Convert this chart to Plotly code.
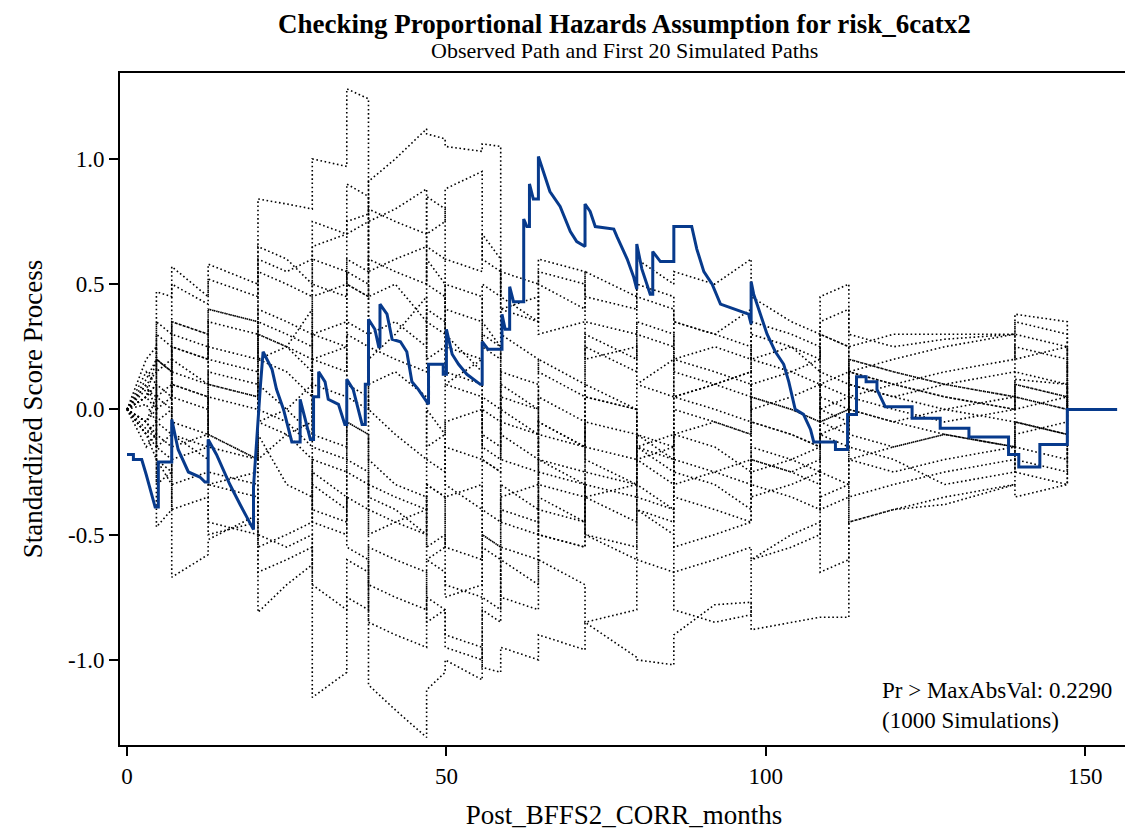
import plotly.graph_objects as go

# common event grid for the simulated paths (repeated times = jumps)
sim_t = [0, 3, 4.6, 4.6, 7.0, 7.0, 12.7, 12.7, 20.5, 20.5, 25, 29.0, 29.0, 34.4, 34.4,
         37.8, 37.8, 42, 46.9, 46.9, 49.8, 49.8, 55.6, 55.6, 58.5, 58.5, 64.4, 64.4,
         71.7, 71.7, 79.8, 79.8, 85.6, 85.6, 92, 97.7, 97.7, 104, 108.5, 108.5, 113, 113,
         120, 128, 139, 139, 147.2, 147.2]

sim_A = [0, 0.12, 0.2, 0.35, 0.3, 0.5, 0.42, 0.58, 0.5, 0.84, 0.82, 0.8, 1.0, 0.97, 1.28, 1.24, 0.45, 0.5, 0.35, 0.6, 0.5, 0.3, 0.15, 0.35, 0.25, -0.1, -0.2, -0.05, -0.15, 0.1, 0.0, -0.2, -0.3, -0.1, -0.15, -0.25, -0.05, -0.1, -0.15, 0.05, 0.0, 0.15, 0.1, 0.05, 0.0, 0.1, 0.05, 0]
sim_B = [0, 0.05, 0.1, 0.2, 0.15, 0.35, 0.3, 0.4, 0.35, 0.6, 0.55, 0.6, 0.65, 0.7, 0.75, 0.78, 0.91, 1.0, 1.12, 1.1, 1.08, 1.05, 1.03, 1.06, 1.05, 0.45, 0.35, 0.5, 0.4, 0.55, 0.45, 0.6, 0.5, 0.55, 0.5, 0.6, 0.45, 0.35, 0.3, 0.45, 0.5, 0.3, 0.25, 0.28, 0.3, 0.38, 0.35, 0]
sim_C = [0, -0.05, -0.1, -0.2, -0.25, -0.4, -0.35, -0.5, -0.45, -0.65, -0.6, -0.55, -1.15, -1.05, -0.75, -0.8, -0.55, -0.6, -0.65, -0.85, -0.8, -0.95, -1.0, -0.75, -0.8, -0.55, -0.6, -0.4, -0.45, -0.25, -0.3, -0.1, -0.15, -0.3, -0.25, -0.2, -0.35, -0.3, -0.25, -0.4, -0.35, -0.2, -0.15, -0.1, -0.15, -0.05, -0.1, 0]
sim_D = [0, -0.08, -0.12, -0.05, -0.1, 0.1, 0.05, -0.1, -0.2, -0.1, -0.3, -0.35, -0.25, -0.35, -0.55, -0.6, -1.1, -1.2, -1.31, -1.12, -1.05, -1.0, -1.08, -0.8, -0.85, -0.6, -0.7, -0.5, -0.55, -0.35, -0.45, -0.3, -0.4, -0.2, -0.25, -0.3, -0.15, -0.2, -0.25, -0.1, -0.15, 0.0, -0.05, -0.1, -0.15, -0.05, -0.1, 0]
sim_E = [0, 0.02, -0.05, -0.15, -0.2, -0.1, -0.2, -0.3, -0.35, -0.5, -0.55, -0.5, -0.7, -0.8, -0.6, -0.65, -0.85, -0.9, -0.95, -0.75, -0.8, -0.9, -0.95, -1.03, -1.05, -0.95, -1.0, -0.9, -0.96, -0.85, -0.99, -1.0, -1.02, -0.9, -0.78, -0.77, -0.88, -0.85, -0.83, -0.83, -0.83, -0.45, -0.4, -0.38, -0.3, -0.2, -0.25, 0]
sim_F = [0, 0.05, 0.0, -0.1, -0.15, -0.3, -0.25, -0.45, -0.5, -0.81, -0.7, -0.62, -0.3, -0.4, -0.2, -0.25, -0.4, -0.45, -0.5, -0.3, -0.35, -0.55, -0.6, -0.4, -0.45, -0.3, -0.4, -0.2, -0.3, -0.5, -0.6, -0.4, -0.5, -0.65, -0.6, -0.55, -0.6, -0.5, -0.45, -0.65, -0.6, -0.35, -0.3, -0.25, -0.2, -0.1, -0.05, 0]
sim_G = [0, -0.05, -0.12, -0.2, -0.3, -0.67, -0.58, -0.52, -0.42, -0.2, -0.1, -0.05, 0.2, 0.25, 0.5, 0.45, 0.2, 0.3, 0.45, 0.2, 0.25, 0.1, 0.2, -0.1, -0.15, 0.1, 0.0, 0.2, 0.1, 0.3, 0.2, 0.35, 0.3, 0.15, 0.1, 0.05, 0.2, 0.15, 0.1, 0.0, 0.05, 0.2, 0.15, 0.1, 0.05, 0.12, 0.1, 0]
sim_H = [0, -0.1, -0.15, -0.47, -0.4, -0.15, -0.1, 0.1, 0.05, 0.3, 0.25, 0.2, 0.45, 0.5, 0.7, 0.75, 0.55, 0.6, 0.65, 0.85, 0.8, 0.6, 0.55, 0.7, 0.6, 0.4, 0.45, 0.3, 0.35, 0.2, 0.25, 0.1, 0.2, 0.35, 0.3, 0.25, 0.1, 0.15, 0.2, 0.35, 0.4, 0.25, 0.3, 0.3, 0.3, 0.2, 0.25, 0]
sim_I = [0, 0.1, 0.15, 0.47, 0.45, 0.57, 0.45, 0.52, 0.45, 0.65, 0.6, 0.5, 0.75, 0.7, 0.9, 0.85, 0.75, 0.8, 0.88, 0.7, 0.75, 0.88, 0.95, 0.6, 0.55, 0.3, 0.2, 0.15, 0.05, 0.25, 0.15, 0.3, 0.25, 0.05, 0.1, 0.15, 0.3, 0.25, 0.2, 0.3, 0.25, 0.1, 0.05, 0.1, 0.15, 0.25, 0.2, 0]
sim_J = [0, 0.08, 0.05, 0.2, 0.15, 0.25, 0.2, 0.35, 0.3, 0.55, 0.5, 0.45, 0.6, 0.55, 0.5, 0.45, 0.6, 0.55, 0.5, 0.65, 0.6, 0.4, 0.35, 0.5, 0.45, 0.55, 0.5, 0.6, 0.55, 0.45, 0.4, 0.5, 0.45, 0.35, 0.3, 0.4, 0.2, 0.25, 0.15, 0.3, 0.25, 0.15, 0.1, 0.05, 0.0, 0.05, 0.0, 0]
sim_K = [0, -0.05, 0.0, 0.1, 0.05, 0.2, 0.1, -0.1, -0.2, 0.1, 0.0, -0.1, 0.2, 0.15, 0.35, 0.3, 0.0, -0.1, -0.2, 0.0, -0.1, -0.3, -0.4, -0.2, -0.25, -0.45, -0.5, -0.35, -0.45, -0.3, -0.35, -0.15, -0.25, -0.1, -0.05, -0.1, 0.05, 0.0, -0.05, 0.1, 0.05, -0.1, -0.15, -0.1, -0.15, -0.05, -0.1, 0]
sim_L = [0, 0.15, 0.1, 0.0, 0.05, 0.25, 0.2, 0.4, 0.35, 0.2, 0.25, 0.4, 0.3, 0.35, 0.55, 0.5, 0.3, 0.35, 0.25, 0.4, 0.35, 0.15, 0.1, 0.3, 0.25, 0.0, -0.1, 0.05, -0.05, -0.2, -0.3, -0.1, -0.2, -0.35, -0.4, -0.45, -0.3, -0.35, -0.4, -0.25, -0.3, -0.15, -0.2, -0.3, -0.25, -0.15, -0.2, 0]
sim_M = [0, -0.1, -0.05, 0.05, 0.0, -0.2, -0.15, -0.3, -0.25, -0.05, -0.1, -0.2, -0.45, -0.5, -0.35, -0.4, -0.7, -0.75, -0.8, -0.6, -0.65, -0.75, -0.7, -0.5, -0.55, -0.75, -0.8, -0.6, -0.7, -0.85, -0.8, -0.6, -0.65, -0.8, -0.85, -0.82, -0.6, -0.55, -0.5, -0.35, -0.3, -0.45, -0.4, -0.35, -0.3, -0.35, -0.3, 0]
sim_N = [0, 0.05, 0.1, -0.05, 0.0, 0.15, 0.1, 0.25, 0.2, 0.4, 0.35, 0.3, 0.1, 0.05, 0.3, 0.25, 0.1, 0.15, 0.05, -0.15, -0.1, 0.1, 0.05, -0.2, -0.25, -0.05, -0.1, -0.3, -0.35, -0.15, -0.2, -0.4, -0.45, -0.25, -0.3, -0.4, -0.2, -0.25, -0.3, -0.1, -0.05, 0.05, 0.1, 0.15, 0.2, 0.3, 0.25, 0]
sim_O = [0, -0.15, -0.1, 0.05, 0.1, 0.3, 0.25, 0.1, 0.05, 0.3, 0.25, 0.15, -0.1, -0.15, 0.1, 0.05, -0.2, -0.3, -0.35, -0.55, -0.5, -0.7, -0.75, -0.55, -0.6, -0.4, -0.45, -0.25, -0.3, -0.5, -0.55, -0.35, -0.4, -0.55, -0.5, -0.45, -0.25, -0.2, -0.15, -0.05, 0.0, -0.2, -0.25, -0.2, -0.15, -0.25, -0.3, 0]
sim_P = [0, 0.2, 0.25, 0.15, 0.2, 0.35, 0.3, 0.2, 0.15, -0.05, 0.0, 0.1, -0.15, -0.2, -0.05, -0.1, -0.3, -0.35, -0.4, -0.2, -0.25, -0.05, 0.0, -0.15, -0.2, 0.05, 0.0, -0.2, -0.25, -0.05, -0.1, 0.1, 0.05, 0.2, 0.15, 0.1, -0.05, -0.1, -0.15, 0.0, -0.05, 0.1, 0.05, 0.0, 0.05, 0.0, 0.05, 0]
sim_Q = [0, -0.1, -0.2, -0.3, -0.25, -0.05, -0.1, -0.25, -0.3, -0.55, -0.5, -0.45, -0.2, -0.25, -0.05, -0.1, -0.35, -0.4, -0.5, -0.3, -0.35, -0.15, -0.2, 0.05, 0.0, -0.2, -0.25, -0.05, -0.15, 0.05, 0.0, -0.2, -0.15, 0.05, 0.0, -0.05, -0.2, -0.25, -0.2, -0.05, -0.1, 0.05, 0.0, -0.05, 0.0, 0.05, 0.0, 0]
sim_R = [0, 0.05, 0.2, 0.3, 0.25, 0.05, 0.0, 0.15, 0.1, 0.35, 0.3, 0.25, 0.5, 0.45, 0.6, 0.55, 0.8, 0.75, 0.7, 0.5, 0.45, 0.25, 0.2, 0.0, -0.05, 0.15, 0.1, -0.1, -0.15, 0.05, 0.0, -0.15, -0.1, 0.05, 0.1, 0.15, 0.0, 0.05, 0.1, -0.05, 0.0, 0.15, 0.2, 0.25, 0.3, 0.35, 0.3, 0]
sim_S = [0, 0.1, 0.0, -0.15, -0.1, 0.1, 0.05, -0.15, -0.2, 0.0, -0.05, -0.15, -0.4, -0.45, -0.25, -0.3, -0.5, -0.45, -0.4, -0.6, -0.55, -0.35, -0.3, -0.5, -0.55, -0.35, -0.3, -0.5, -0.55, -0.35, -0.3, -0.15, -0.2, 0.0, -0.05, -0.1, 0.05, 0.0, -0.05, 0.15, 0.1, 0.2, 0.15, 0.1, 0.05, 0.15, 0.1, 0]
sim_T = [0, -0.05, 0.05, 0.2, 0.15, -0.1, -0.15, 0.05, 0.0, 0.2, 0.15, 0.05, 0.3, 0.25, 0.05, 0.0, 0.25, 0.2, 0.15, 0.35, 0.3, 0.5, 0.45, 0.25, 0.2, 0.4, 0.35, 0.55, 0.5, 0.35, 0.3, 0.45, 0.4, 0.2, 0.25, 0.2, 0.35, 0.3, 0.25, 0.1, 0.15, 0.0, -0.05, 0.0, -0.05, 0.1, 0.05, 0]

sim_paths = [sim_A, sim_B, sim_C, sim_D, sim_E, sim_F, sim_G, sim_H, sim_I, sim_J,
             sim_K, sim_L, sim_M, sim_N, sim_O, sim_P, sim_Q, sim_R, sim_S, sim_T]

# observed path (repeated x = vertical jump)
obs_x = [0, 1.0, 1.0, 2.3, 3.0, 3.6, 4.4, 4.9, 4.9, 7.0, 7.0, 8.0, 9.6, 11.4, 12.2, 12.7, 12.7,
         14.0, 16.1, 17.7, 19.5, 19.8, 19.8, 20.1, 20.4, 20.9, 21.3, 22.7, 23.4, 24.5, 25.8,
         27.1, 27.1, 28.7, 29.2, 29.2, 30.0, 30.0, 31.0, 31.5, 33.1, 34.1, 34.4, 34.4, 35.4,
         36.8, 37.3, 37.3, 37.8, 37.8, 38.8, 39.4, 39.6, 39.6, 40.7, 41.5, 42.8, 43.8, 44.6,
         45.6, 47.2, 47.2, 49.5, 49.5, 50.0, 50.0, 50.9, 51.9, 53.2, 55.3, 55.6, 55.6, 56.5,
         58.7, 58.7, 59.2, 59.9, 59.9, 60.5, 62.1, 62.1, 62.6, 63.0, 63.0, 63.6, 64.4, 64.4,
         65.2, 66.2, 67.8, 69.4, 70.4, 71.7, 71.7, 72.5, 73.3, 76.2, 76.7, 78.3, 79.3, 79.8,
         79.8, 80.6, 81.9, 82.3, 82.3, 83.5, 85.6, 85.6, 88.4, 89.2, 90.3, 91.6, 92.9, 95.0,
         97.3, 97.7, 97.7, 98.1, 99.1, 100.2, 101.5, 102.8, 103.6, 104.6, 105.9, 107.0, 107.5,
         110.9, 110.9, 112.8, 112.8, 114.2, 114.2, 115.7, 115.7, 117.4, 117.4, 118.2, 118.7,
         122.9, 122.9, 127.3, 127.3, 131.8, 131.8, 138.0, 138.0, 139.6, 139.6, 142.9, 142.9,
         147.2, 147.2, 155.0]
obs_y = [-0.18, -0.18, -0.20, -0.20, -0.26, -0.32, -0.39, -0.39, -0.21, -0.21, -0.04, -0.16,
         -0.25, -0.27, -0.29, -0.29, -0.12, -0.18, -0.30, -0.38, -0.47, -0.48, -0.31, -0.19,
         -0.06, 0.10, 0.23, 0.16, 0.08, 0.00, -0.13, -0.13, 0.04, -0.12, -0.12, 0.05, 0.05,
         0.15, 0.11, 0.04, 0.02, -0.06, -0.06, 0.12, 0.08, -0.06, -0.06, 0.10, 0.10, 0.36,
         0.32, 0.25, 0.25, 0.42, 0.38, 0.28, 0.27, 0.23, 0.11, 0.08, 0.02, 0.18, 0.18, 0.14,
         0.14, 0.32, 0.22, 0.18, 0.14, 0.10, 0.10, 0.27, 0.24, 0.24, 0.38, 0.32, 0.32, 0.49,
         0.43, 0.43, 0.76, 0.73, 0.73, 0.90, 0.84, 0.84, 1.01, 0.95, 0.87, 0.81, 0.71, 0.67,
         0.65, 0.82, 0.79, 0.73, 0.72, 0.69, 0.60, 0.53, 0.48, 0.66, 0.56, 0.46, 0.46, 0.63,
         0.59, 0.59, 0.73, 0.73, 0.64, 0.55, 0.50, 0.42, 0.40, 0.38, 0.34, 0.51, 0.46, 0.38,
         0.30, 0.23, 0.18, 0.11, 0.00, -0.02, -0.08, -0.13, -0.13, -0.16, -0.16, -0.02, -0.02,
         0.13, 0.13, 0.11, 0.11, 0.08, 0.04, 0.01, 0.01, -0.035, -0.035, -0.075, -0.075, -0.11,
         -0.11, -0.18, -0.18, -0.23, -0.23, -0.14, -0.14, 0.0, 0.0]

x_ticks = [0, 50, 100, 150]
y_ticks = [-1.0, -0.5, 0.0, 0.5, 1.0]
y_tick_text = ["-1.0", "-0.5", "0.0", "0.5", "1.0"]

for i, p in enumerate(sim_paths):
    if len(p) != len(sim_t):
        raise ValueError(f"path {i} has {len(p)} values, expected {len(sim_t)}")
if len(obs_x) != len(obs_y):
    raise ValueError(f"obs lengths {len(obs_x)} vs {len(obs_y)}")

FONT = "Liberation Serif"
fig = go.Figure()
for p in sim_paths:
    fig.add_trace(go.Scatter(x=sim_t, y=p, mode="lines",
                             line=dict(color="black", width=1.6, dash="1.6px,2.6px"),
                             hoverinfo="skip", showlegend=False))
fig.add_trace(go.Scatter(x=obs_x, y=obs_y, mode="lines",
                         line=dict(color="#073a8c", width=3),
                         showlegend=False))

# the page body has an 8px margin, so the figure is sized to fit the window
fig.update_layout(
    width=1125, height=828,
    margin=dict(l=112, r=5, t=65, b=91, autoexpand=False),
    paper_bgcolor="white", plot_bgcolor="white",
    font=dict(family=FONT, color="black"),
    showlegend=False,
)
fig.update_xaxes(range=[-1.1, 156.7], tickvals=x_ticks, ticks="outside", ticklen=9,
                 tickwidth=2, tickcolor="black", showgrid=False, zeroline=False,
                 showline=True, linecolor="black", linewidth=2, mirror=True,
                 tickfont=dict(size=23, family=FONT), automargin=False,
                 title=dict(text="Post_BFFS2_CORR_months", font=dict(size=27, family=FONT),
                            standoff=18))
fig.update_yaxes(range=[-1.34, 1.343], tickvals=y_ticks, ticktext=y_tick_text,
                 ticks="outside", ticklen=9, tickwidth=2, tickcolor="black",
                 showgrid=False, zeroline=False, showline=True, linecolor="black",
                 linewidth=2, mirror=True, tickfont=dict(size=23, family=FONT),
                 automargin=False,
                 title=dict(text="Standardized Score Process", font=dict(size=27, family=FONT),
                            standoff=18))

fig.add_annotation(text="<b>Checking Proportional Hazards Assumption for risk_6catx2</b>",
                   xref="paper", yref="paper", x=0.5, y=1.0, yshift=65, showarrow=False,
                   xanchor="center", yanchor="top", borderpad=0,
                   font=dict(size=27, family=FONT))
fig.add_annotation(text="Observed Path and First 20 Simulated Paths",
                   xref="paper", yref="paper", x=0.5, y=1.0, yshift=23, showarrow=False,
                   xanchor="center", yanchor="middle", font=dict(size=22, family=FONT))
fig.add_annotation(text="Pr > MaxAbsVal: 0.2290<br>(1000 Simulations)",
                   xref="paper", yref="paper", x=0.754, y=0.0, yshift=10, showarrow=False,
                   xanchor="left", yanchor="bottom", align="left",
                   font=dict(size=23, family=FONT))

fig.write_html("out.html")
